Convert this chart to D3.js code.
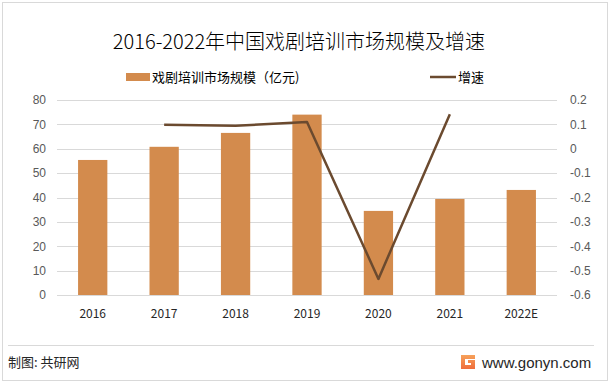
<!DOCTYPE html>
<meta charset="utf-8">
<style>
  body { margin: 0; background: #fff; font-family: "Noto Sans CJK SC", "Microsoft YaHei", sans-serif; }
  .grid line { stroke: #d9d9d9; stroke-width: 1px; }
  .tick text { fill: #595959; font-size: 12px; }
</style>
<body>
<script src="https://d3js.org/d3.v7.min.js"></script>
<script>
  // data
  var years = ["2016", "2017", "2018", "2019", "2020", "2021", "2022E"];
  var scale = [55.4, 60.8, 66.5, 74.0, 34.5, 39.4, 43.1];
  var growthYears = ["2017", "2018", "2019", "2020", "2021"];
  var growth = [0.098, 0.094, 0.11, -0.534, 0.142];
  var leftTicks = [0, 10, 20, 30, 40, 50, 60, 70, 80];
  var rightTicks = [-0.6, -0.5, -0.4, -0.3, -0.2, -0.1, 0, 0.1, 0.2];

  var W = 611, H = 385;
  var margin = {top: 100, left: 57, right: 54, bottom: 90};
  var width = W - margin.left - margin.right,
      height = H - margin.top - margin.bottom;

  var svg = d3.select("body").append("svg")
      .attr("width", W).attr("height", H);

  // outer frame
  svg.append("rect")
      .attr("x", 2.5).attr("y", 2.5).attr("width", 605).attr("height", 378)
      .attr("fill", "none").attr("stroke", "#d9d9d9");

  // title
  svg.append("text")
      .attr("x", 299).attr("y", 49)
      .attr("text-anchor", "middle")
      .attr("font-size", "20px").attr("fill", "#000")
      .attr("font-family", "'Noto Sans CJK SC', sans-serif")
      .attr("font-weight", 300)
      .text("2016-2022年中国戏剧培训市场规模及增速");

  var g = svg.append("g")
      .attr("transform", "translate(" + margin.left + "," + margin.top + ")");

  var x = d3.scaleBand().domain(years).range([0, width]).paddingInner(0.59).paddingOuter(0.295);
  var y = d3.scaleLinear().domain([0, 80]).range([height, 0]);
  var y2 = d3.scaleLinear().domain([-0.6, 0.2]).range([height, 0]);

  // gridlines
  g.append("g").attr("class", "grid")
      .selectAll("line").data(leftTicks).enter().append("line")
      .attr("x1", 0).attr("x2", width)
      .attr("y1", function(d) { return Math.round(y(d)) + 0.5; })
      .attr("y2", function(d) { return Math.round(y(d)) + 0.5; });

  // left axis
  var la = g.append("g")
      .call(d3.axisLeft(y).tickValues(leftTicks).tickSize(0).tickPadding(11));
  la.select(".domain").remove();

  // right axis
  var ra = g.append("g")
      .attr("transform", "translate(" + width + ",0)")
      .call(d3.axisRight(y2).tickValues(rightTicks).tickSize(0).tickPadding(13)
        .tickFormat(function(d) { return String(+d.toFixed(1)); }));
  ra.select(".domain").remove();

  // bars
  g.selectAll(".bar").data(scale).enter().append("rect")
      .attr("class", "bar")
      .attr("x", function(d, i) { return x(years[i]); })
      .attr("width", x.bandwidth())
      .attr("y", function(d) { return y(d); })
      .attr("height", function(d) { return height - y(d); })
      .attr("fill", "#d38b4d");

  // x labels
  g.selectAll(".xl").data(years).enter().append("text")
      .attr("x", function(d) { return x(d) + x.bandwidth() / 2; })
      .attr("y", height + 23)
      .attr("text-anchor", "middle")
      .attr("font-size", "12px").attr("fill", "#262626")
      .text(function(d) { return d; });

  // growth line
  var line = d3.line()
      .x(function(d, i) { return x(growthYears[i]) + x.bandwidth() / 2; })
      .y(function(d) { return y2(d); });
  g.append("path").datum(growth)
      .attr("d", line)
      .attr("fill", "none")
      .attr("stroke", "#6b4a2f")
      .attr("stroke-width", 2.5)
      .attr("stroke-linejoin", "round");

  // legend
  var lg = svg.append("g");
  lg.append("rect").attr("x", 126).attr("y", 73).attr("width", 24).attr("height", 8).attr("fill", "#d38b4d");
  lg.append("text").attr("x", 152).attr("y", 82).attr("font-size", "13px").attr("fill", "#000")
      .text("戏剧培训市场规模（亿元)");
  lg.append("line").attr("x1", 430).attr("x2", 456).attr("y1", 77).attr("y2", 77)
      .attr("stroke", "#6b4a2f").attr("stroke-width", 2.5);
  lg.append("text").attr("x", 458).attr("y", 82).attr("font-size", "13px").attr("fill", "#000")
      .text("增速");

  // footer
  svg.append("line").attr("x1", 8).attr("x2", 594).attr("y1", 345.5).attr("y2", 345.5)
      .attr("stroke", "#d9d9d9");
  svg.append("text").attr("x", 8).attr("y", 367).attr("font-size", "13px").attr("fill", "#262626")
      .text("制图: 共研网");
  var grad = svg.append("defs").append("linearGradient").attr("id", "lg1")
      .attr("x1", 0).attr("y1", 0).attr("x2", 0).attr("y2", 1);
  grad.append("stop").attr("offset", "0%").attr("stop-color", "#f6a15a");
  grad.append("stop").attr("offset", "100%").attr("stop-color", "#ef6d3c");
  svg.append("path")
      .attr("d", "M461,355 h14 v4 h-10 v6 h6 v-2 h-3 v-3 h7 v9 h-14 z")
      .attr("fill", "url(#lg1)");
  svg.append("text").attr("x", 482).attr("y", 368).attr("font-size", "15px").attr("fill", "#262626")
      .attr("font-family", "'Liberation Sans', Arial, sans-serif")
      .text("www.gonyn.com");
</script>
</body>
